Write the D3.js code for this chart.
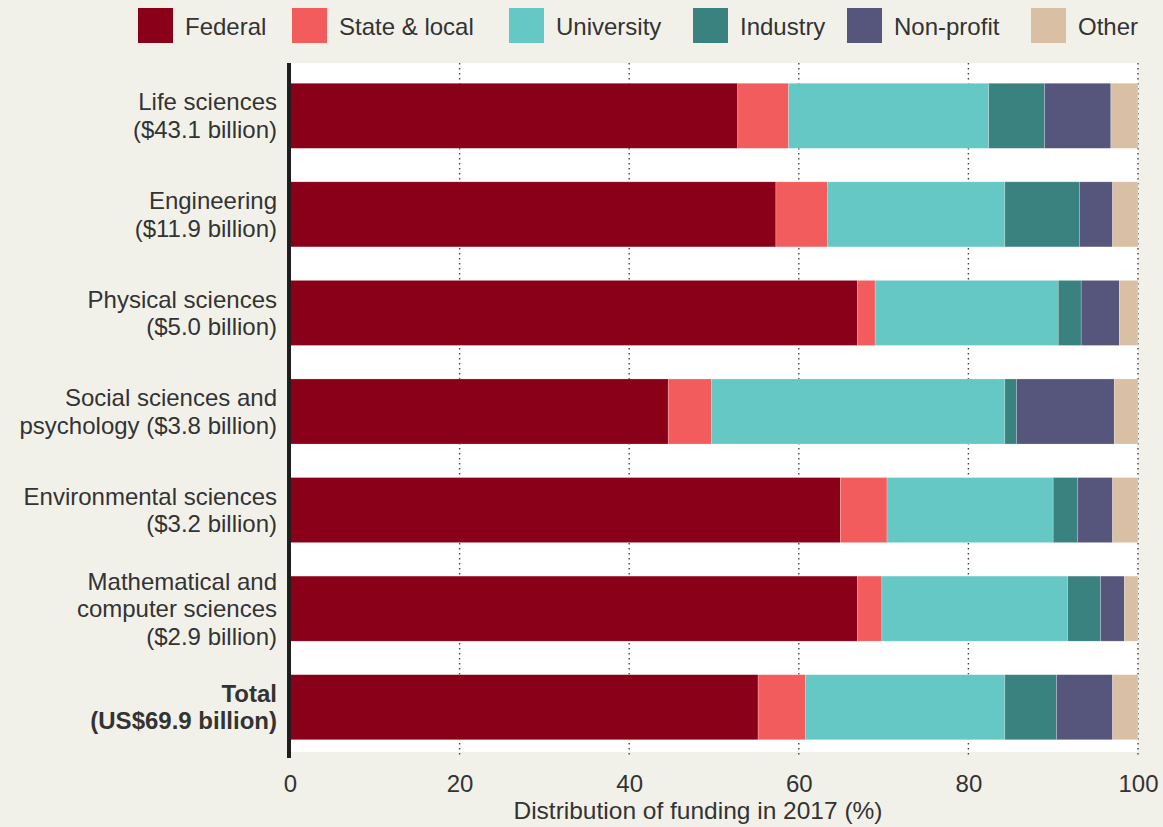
<!DOCTYPE html>
<html>
<head>
<meta charset="utf-8">
<script src="https://cdn.jsdelivr.net/npm/d3@7"></script>
<style>
  html, body { margin: 0; padding: 0; background: #f2f1e9; }
  svg { display: block; }
  text { font-family: "Liberation Sans", Arial, sans-serif; fill: #333; }
</style>
</head>
<body>
<svg id="chart" width="1163" height="827"></svg>
<script>
// ---- Data ----
const categories = [
  "Life sciences\n($43.1 billion)",
  "Engineering\n($11.9 billion)",
  "Physical sciences\n($5.0 billion)",
  "Social sciences and\npsychology ($3.8 billion)",
  "Environmental sciences\n($3.2 billion)",
  "Mathematical and\ncomputer sciences\n($2.9 billion)",
  "Total\n(US$69.9 billion)"
];
const seriesNames = ["Federal", "State & local", "University", "Industry", "Non-profit", "Other"];
const federal    = [52.8, 57.3, 66.9, 44.6, 64.9, 66.9, 55.2];
const stateLocal = [6.0, 6.1, 2.1, 5.1, 5.5, 2.9, 5.6];
const university = [23.6, 20.9, 21.6, 34.6, 19.6, 21.9, 23.5];
const industry   = [6.6, 8.8, 2.7, 1.4, 2.9, 3.9, 6.1];
const nonProfit  = [7.8, 3.9, 4.5, 11.5, 4.1, 2.8, 6.6];
const other      = [3.2, 3.0, 2.2, 2.8, 3.0, 1.6, 3.0];
const xTicks = [0, 20, 40, 60, 80, 100];
const xAxisTitle = "Distribution of funding in 2017 (%)";

// ---- Styles ----
const colors = ["#8b0019", "#f25c5c", "#66c8c4", "#3a8280", "#56557c", "#d9c0a5"];
const seriesValues = [federal, stateLocal, university, industry, nonProfit, other];

const table = categories.map((c, i) => {
  const row = { category: c };
  seriesNames.forEach((s, j) => { row[s] = seriesValues[j][i]; });
  return row;
});

const svg = d3.select("#chart");
const plotTop = 63, plotBottom = 752, gridBottom = 758;
const x = d3.scaleLinear().domain([0, 100]).range([290, 1138]);
const y = d3.scaleBand().domain(categories).range([66.5, 756.5]).paddingInner(0.34).paddingOuter(0.17);

// plot background
svg.append("rect")
  .attr("x", x(0)).attr("y", plotTop)
  .attr("width", x(100) - x(0)).attr("height", plotBottom - plotTop)
  .attr("fill", "#ffffff");

// gridlines
svg.append("g").selectAll("line")
  .data(xTicks.filter(d => d > 0))
  .join("line")
  .attr("x1", d => x(d)).attr("x2", d => x(d))
  .attr("y1", plotTop).attr("y2", gridBottom)
  .attr("stroke", "#444")
  .attr("stroke-width", 1.4)
  .attr("stroke-dasharray", "1.4,3.6");

// bars
const stacked = d3.stack().keys(seriesNames)(table);
svg.append("g").selectAll("g")
  .data(stacked)
  .join("g")
  .attr("fill", (d, i) => colors[i])
  .selectAll("rect")
  .data(d => d)
  .join("rect")
  .attr("x", d => x(d[0]))
  .attr("y", d => y(d.data.category))
  .attr("width", d => x(d[1]) - x(d[0]))
  .attr("height", y.bandwidth())
  .attr("stroke", "#ffffff")
  .attr("stroke-opacity", 0.35)
  .attr("stroke-width", 0.6);

// left axis line
svg.append("line")
  .attr("x1", 289).attr("x2", 289)
  .attr("y1", plotTop).attr("y2", gridBottom)
  .attr("stroke", "#1e1e1e").attr("stroke-width", 4);

// category labels
const lineH = 27.5;
svg.append("g").selectAll("text")
  .data(categories)
  .join("text")
  .attr("text-anchor", "end")
  .attr("font-size", 24)
  .attr("font-weight", (d, i) => i === categories.length - 1 ? "bold" : "normal")
  .each(function(d) {
    const lines = d.split("\n");
    const cy = y(d) + y.bandwidth() / 2;
    const t = d3.select(this);
    lines.forEach((ln, k) => {
      t.append("tspan")
        .attr("x", 277)
        .attr("y", cy + (k - (lines.length - 1) / 2) * lineH)
        .attr("dy", "0.35em")
        .text(ln);
    });
  });

// x axis tick labels
const xAxis = d3.axisBottom(x).tickValues(xTicks).tickSize(0).tickPadding(0);
const gx = svg.append("g").attr("transform", `translate(0, 775)`).call(xAxis);
gx.select(".domain").remove();
gx.selectAll("text")
  .attr("font-size", 24)
  .attr("font-family", "Liberation Sans, Arial, sans-serif")
  .attr("fill", "#333")
  .attr("dy", "0.71em");

// axis title
svg.append("text")
  .attr("x", 698).attr("y", 810)
  .attr("text-anchor", "middle")
  .attr("dy", "0.35em")
  .attr("font-size", 24.5)
  .text(xAxisTitle);

// legend
const legendX = [138, 292, 509, 693, 847, 1031];
const legend = svg.append("g").selectAll("g")
  .data(seriesNames)
  .join("g")
  .attr("transform", (d, i) => `translate(${legendX[i]}, 8)`);
legend.append("rect")
  .attr("width", 35).attr("height", 35)
  .attr("fill", (d, i) => colors[i]);
legend.append("text")
  .attr("x", 47).attr("y", 19)
  .attr("dy", "0.35em")
  .attr("font-size", 24)
  .text(d => d);
</script>
</body>
</html>
